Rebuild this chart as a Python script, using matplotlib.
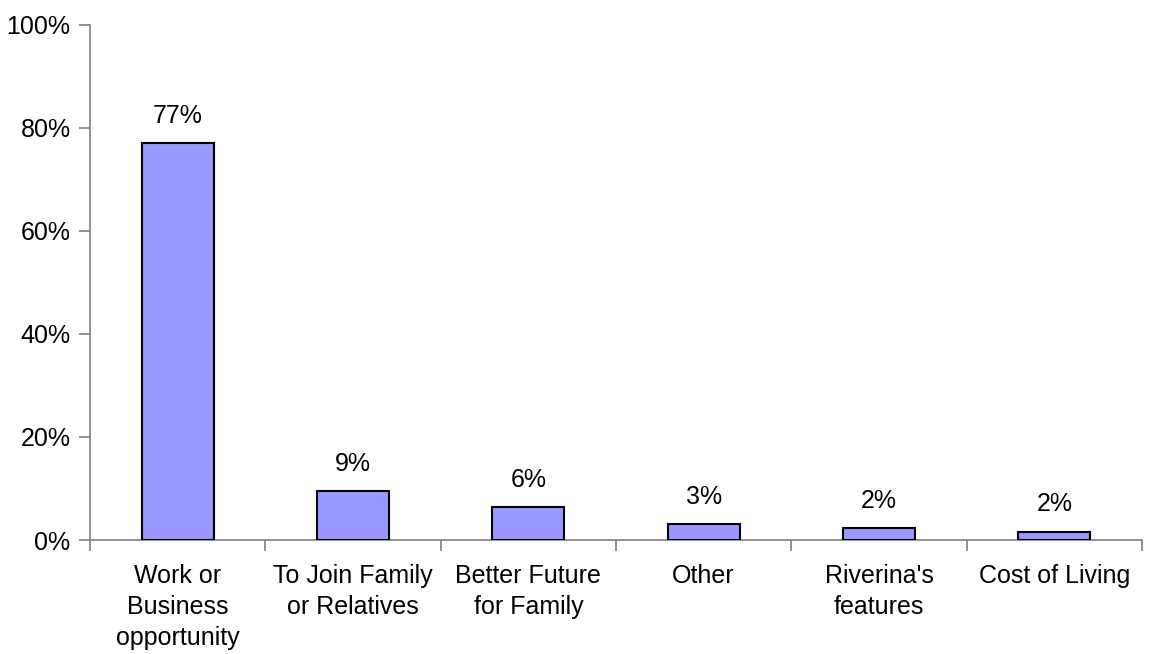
import numpy as np
import matplotlib.pyplot as plt
from matplotlib.ticker import FixedLocator

plt.rcParams['font.family'] = ['Liberation Sans', 'DejaVu Sans']

# Reasons for moving to the Riverina
categories = ['Work or\nBusiness\nopportunity', 'To Join Family\nor Relatives',
              'Better Future\nfor Family', 'Other', "Riverina's\nfeatures", 'Cost of Living']
values = [77.0, 9.5, 6.4, 3.1, 2.3, 1.6]
labels = ['77%', '9%', '6%', '3%', '2%', '2%']
yticks = [0, 20, 40, 60, 80, 100]

fs = 18

fig = plt.figure(figsize=(11.49, 6.54), dpi=100)
ax = fig.add_axes([90/1149, 1-540/654, 1052/1149, (540-24.5)/654])

x = np.arange(len(categories))
ax.bar(x, values, width=0.41, color='#9999FF', edgecolor='black', linewidth=1.5, zorder=3)

for xi, v, lab in zip(x, values, labels):
    ax.annotate(lab, (xi, v), xytext=(0, 11), textcoords='offset points',
                ha='center', va='bottom', fontsize=fs)

ax.set_xlim(-0.5, len(categories) - 0.5)
ax.set_ylim(0, 100)
ax.set_yticks(yticks)
ax.set_yticklabels([f'{t}%' for t in yticks], fontsize=fs)

ax.set_xticks(x)
ax.set_xticklabels(categories, fontsize=fs, linespacing=1.38)
ax.tick_params(axis='x', which='major', length=0, pad=17)
ax.xaxis.set_minor_locator(FixedLocator(np.arange(-0.5, len(categories), 1.0)))
ax.tick_params(axis='x', which='minor', length=8, color='#808080', width=1.2)
ax.tick_params(axis='y', length=8, color='#808080', width=1.2, pad=6)

for side in ['top', 'right']:
    ax.spines[side].set_visible(False)
for side in ['left', 'bottom']:
    ax.spines[side].set_color('#808080')
    ax.spines[side].set_linewidth(1.2)

fig.savefig('out.png', dpi=100)
